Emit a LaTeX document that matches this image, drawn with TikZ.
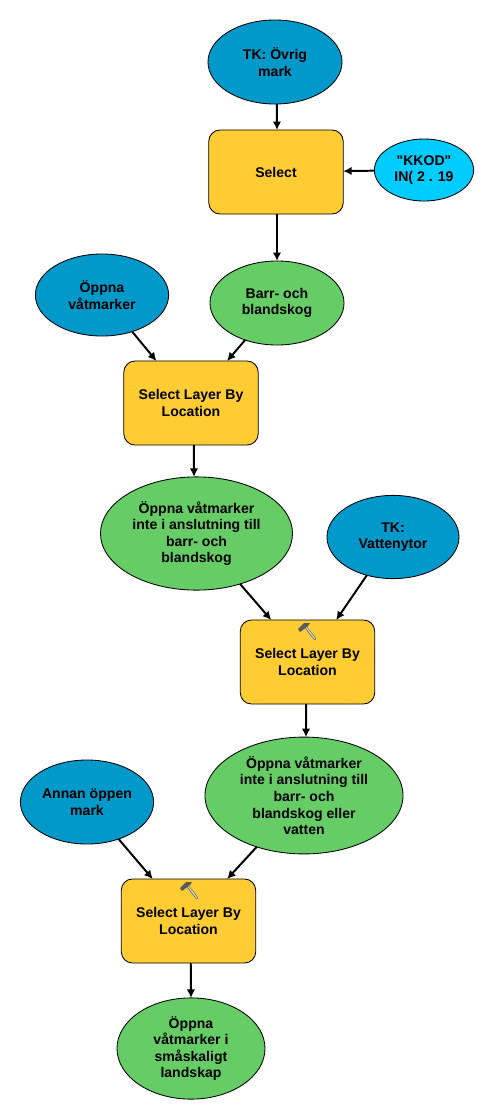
\documentclass[tikz,border=0pt]{standalone}
\usepackage{fontspec}
\setmainfont{Liberation Sans}[Ligatures=TeXOff]
\definecolor{dataBlue}{HTML}{0099C9}
\definecolor{toolYellow}{HTML}{FFCC33}
\definecolor{outGreen}{HTML}{66CC66}
\definecolor{paramCyan}{HTML}{00CCFF}
\usetikzlibrary{arrows.meta, positioning, shapes.geometric}

\begin{document}
\begin{tikzpicture}[x=0.025cm, y=-0.025cm]
    \tikzset{
        modelbase/.style={draw=black, line width=0.6pt, font=\fontsize{10pt}{11.8pt}\selectfont\bfseries, align=center, inner sep=0pt, outer sep=0pt},
        databox/.style={modelbase, ellipse, fill=dataBlue},
        outbox/.style={modelbase, ellipse, fill=outGreen},
        parambox/.style={modelbase, ellipse, fill=paramCyan},
        toolbox/.style={modelbase, rectangle, fill=toolYellow, rounded corners=8pt, minimum width=3.36cm, minimum height=2.1cm},
        flow/.style={line width=1.4pt, -{Latex[length=6pt, width=6pt]}},
        pics/hammer/.style={code={
            \draw[line width=1.8pt, black!60, line cap=round] (-3,-6) -- (8,8);
            \draw[line width=0.8pt, black!15, line cap=round] (-2,-5) -- (8,8);
            \fill[black!65] (-9,-2) -- (-3,-8) -- (3,-8) -- (1,-5) -- (-7,1) -- cycle;
        }},
    }
    \useasboundingbox (0,0) rectangle (495,1120);

    % Top row
    \node[databox, minimum width=3.35cm, minimum height=2.1cm] (tkovrig) at (275,62) {TK: Övrig\\mark};
    \node[toolbox] (select) at (276,172) {Select};
    \node[parambox, minimum width=2.48cm, minimum height=1.55cm] (kkod) at (424,170) {"KKOD"\\IN( 2 . 19};

    % First selection
    \node[databox, minimum width=3.33cm, minimum height=2.05cm] (oppna) at (102,295) {Öppna\\våtmarker};
    \node[outbox, minimum width=3.35cm, minimum height=2.1cm] (barr) at (277,303) {Barr- och\\blandskog};
    \node[toolbox] (layerA) at (191,403) {Select Layer By\\Location};
    \node[outbox, minimum width=4.8cm, minimum height=2.83cm] (utanbarr) at (196.5,533.5) {Öppna våtmarker\\inte i anslutning till\\barr- och\\blandskog};

    % Second selection
    \node[databox, minimum width=3.3cm, minimum height=2.08cm] (vatten) at (393,537) {TK:\\Vattenytor};
    \node[toolbox] (layerB) at (307.5,662) {Select Layer By\\Location};
    \node[outbox, minimum width=4.95cm, minimum height=2.92cm] (utanvatten) at (304,795.5) {Öppna våtmarker\\inte i anslutning till\\barr- och\\blandskog eller\\vatten};

    % Third selection
    \node[databox, minimum width=3.33cm, minimum height=2.1cm] (annan) at (87,802) {Annan öppen\\mark};
    \node[toolbox] (layerC) at (188.5,921) {Select Layer By\\Location};
    \node[outbox, minimum width=3.7cm, minimum height=2.53cm] (smaskaligt) at (191,1048.5) {Öppna\\våtmarker i\\småskaligt\\landskap};

    \pic at (307,631) {hammer};
    \pic at (189,890) {hammer};

    % Connectors
    \draw[flow] ([xshift=1.4pt]tkovrig.south) -- ([xshift=0.7pt]select.north);
    \draw[flow] (kkod) -- (select);
    \draw[flow] ([xshift=0.7pt]select.south) -- (barr.north);
    \draw[flow] (oppna) -- (layerA);
    \draw[flow] (barr) -- (layerA);
    \draw[flow] ([xshift=2.1pt]layerA.south) -- ([xshift=-1.8pt]utanbarr.north);
    \draw[flow] (utanbarr) -- (layerB);
    \draw[flow] (vatten) -- (layerB);
    \draw[flow] ([xshift=-1pt]layerB.south) -- ([xshift=1.4pt]utanvatten.north);
    \draw[flow] (utanvatten) -- (layerC);
    \draw[flow] (annan) -- (layerC);
    \draw[flow] ([xshift=1.6pt]layerC.south) -- (smaskaligt.north);
\end{tikzpicture}
\end{document}
